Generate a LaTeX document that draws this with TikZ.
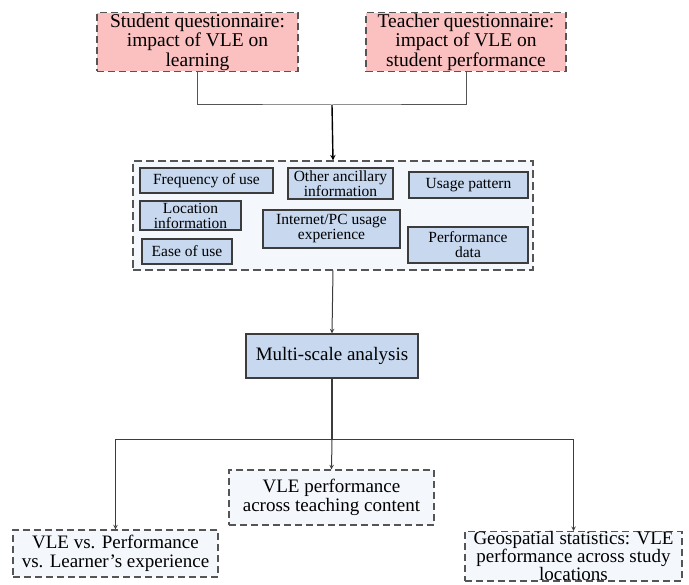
\documentclass[tikz,border=0pt]{standalone}
\usepackage{fontspec}
\setmainfont{Liberation Serif}
\usetikzlibrary{arrows}
\definecolor{qpink}{RGB}{251,192,192}
\definecolor{qblue}{RGB}{199,216,239}
\definecolor{qpale}{RGB}{244,247,252}
\definecolor{qedge}{RGB}{85,85,85}
\definecolor{qline}{RGB}{60,60,60}

\begin{document}
\begin{tikzpicture}[x=1pt,y=-1pt]
\tikzstyle{quest}=[rectangle, draw=qedge, fill=qpink, line width=1.3pt, dash pattern=on 7pt off 4pt, align=center, inner sep=1pt, minimum width=201pt, minimum height=58pt, font=\fontsize{19.5}{19.5}\selectfont]
\tikzstyle{group}=[rectangle, draw=qedge, fill=qpale, line width=1.3pt, dash pattern=on 8pt off 4pt, minimum width=400pt, minimum height=109pt]
\tikzstyle{item}=[rectangle, draw=qline, fill=qblue, line width=1.3pt, align=center, inner sep=0.5pt, font=\fontsize{15.5}{15}\selectfont]
\tikzstyle{result}=[rectangle, draw=qedge, fill=qpale, line width=1.3pt, dash pattern=on 7pt off 4pt, align=center, inner sep=1pt, font=\fontsize{19}{19.5}\selectfont]
\tikzstyle{link}=[line width=1pt, draw=qedge]
\tikzstyle{arrow}=[line width=1pt, draw=qline, ->, >=stealth]
\useasboundingbox (0,0) rectangle (689,585);
\node[quest] (stud) at (197.5,42) {Student questionnaire:\\impact of VLE on\\learning};
\node[quest, minimum width=200pt] (teach) at (466,42) {Teacher questionnaire:\\impact of VLE on\\student performance};
\coordinate (join) at (332,105);
\node[group] (data) at (333,215.5) {};
\node[item, minimum width=133pt, minimum height=25pt] (freq) at (206.5,180.5) {Frequency of use};
\node[item, minimum width=105pt, minimum height=31pt] (other) at (340.5,183.5) {Other ancillary\\information};
\node[item, minimum width=119pt, minimum height=26pt] (usage) at (468.5,185) {Usage pattern};
\node[item, minimum width=101pt, minimum height=29pt] (loc) at (190.5,215.5) {Location\\information};
\node[item, minimum width=137pt, minimum height=38pt] (inet) at (331.5,229) {Internet/PC usage\\experience};
\node[item, minimum width=120pt, minimum height=36pt] (perf) at (468,245) {Performance\\data};
\node[item, minimum width=90pt, minimum height=25pt] (ease) at (187,251.5) {Ease of use};
\node[item, minimum width=172pt, minimum height=44pt, font=\fontsize{19}{19.5}\selectfont] (multi) at (332,356) {Multi-scale analysis};
\coordinate (split) at (332,440);
\node[result, minimum width=205pt, minimum height=55pt] (content) at (331.5,497.5) {VLE performance\\across teaching content};
\node[result, minimum width=205pt, minimum height=47pt] (learner) at (115.5,553.5) {VLE vs. Performance\\vs. Learner’s experience};
\node[result, minimum width=217pt, inner sep=0pt, anchor=north, font=\fontsize{19}{18}\selectfont] (geo) at (573.5,531) {Geospatial statistics: VLE\\performance across study\\locations};
\draw[link] (stud.south) |- (join) -| (teach.south);
\draw[arrow, line width=1.4pt, draw=black] (join) -- (data.north);
\draw[arrow] (data.south) -- (multi.north);
\draw[line width=2pt, draw=qline] (multi.south) -- (split);
\draw[arrow] (split) -- (content.north);
\draw[arrow] (split) -| (learner.north);
\draw[arrow] (split) -| (geo.north);
\end{tikzpicture}
\end{document}
